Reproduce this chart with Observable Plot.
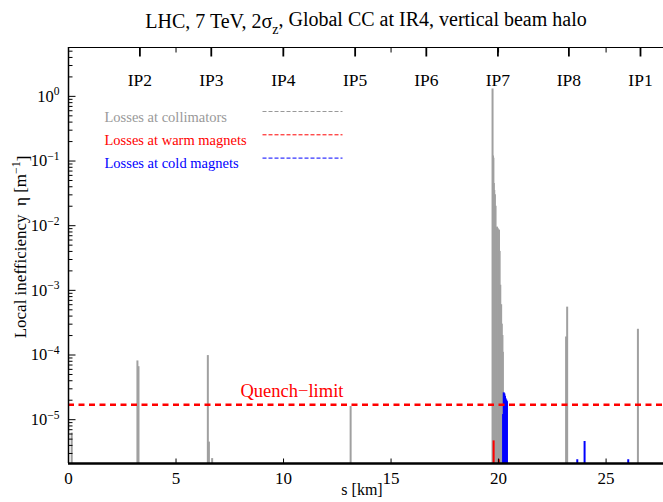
<!DOCTYPE html>
<html><head><meta charset="utf-8">
<script src="https://cdn.jsdelivr.net/npm/d3@7"></script>
<script src="https://cdn.jsdelivr.net/npm/@observablehq/plot@0.6"></script>
<style>
body{margin:0;background:#fff;}
#chart svg{background:#fff;}
#chart svg text, #chart svg tspan{font-family:"Liberation Serif","Times New Roman",serif !important;}
</style></head><body><div id="chart"></div>
<script>
// ---- data ----
const collimatorS   = [0.15, 3.205, 3.255, 6.48, 6.53, 6.68, 13.12,
  19.72, 19.74, 19.76, 19.78, 19.80, 19.83, 19.86, 19.89, 19.93, 19.96, 19.99, 20.02, 20.05, 20.08, 20.12, 20.15, 20.18, 20.20,
  23.14, 23.19, 26.48];
const collimatorEta = [6.2e-6, 8.1e-5, 6.6e-5, 9.8e-5, 4.5e-6, 2.5e-6, 1.6e-5,
  1.3, 0.12, 0.11, 0.045, 0.035, 0.030, 0.02, 0.009, 0.0095, 0.009, 0.0086, 0.0085, 0.004, 0.0012, 0.0006, 0.0003, 0.0002, 0.00011,
  1.9e-4, 5.5e-4, 2.5e-4];
const warmS   = [19.77, 20.01];
const warmEta = [4.7e-6, 2.4e-6];
const coldS   = [20.21, 20.24, 20.27, 20.30, 20.33, 20.36, 20.39, 23.66, 24.00, 26.03];
const coldEta = [1.2e-5, 2.6e-5, 2.5e-5, 2.3e-5, 2.1e-5, 2.0e-5, 1.9e-5, 2.4e-6, 4.6e-6, 2.4e-6];
const ipNames = ["IP2","IP3","IP4","IP5","IP6","IP7","IP8","IP1"];
const ipS     = [3.32, 6.64, 9.99, 13.33, 16.64, 19.97, 23.27, 26.6];
const xTicks  = [0, 5, 10, 15, 20, 25];
const yTicks  = [1e-5, 1e-4, 1e-3, 1e-2, 1e-1, 1];
const quenchLimit = 1.7e-5;
const legendLabels = ["Losses at collimators", "Losses at warm magnets", "Losses at cold magnets"];
const xDomain = [0, 27.67];
const yDomain = [2.1e-6, 5.7];

// ---- build ----
const SERIF = "Liberation Serif, Times New Roman, serif";
const GRAY = "#a0a0a0", RED = "#ff0000", BLUE = "#0000ff";
const legendColors = ["#999999", RED, BLUE];
const collimators = collimatorS.map((s, i) => ({s, eta: collimatorEta[i]}));
const warm = warmS.map((s, i) => ({s, eta: warmEta[i]}));
const cold = coldS.map((s, i) => ({s, eta: coldEta[i]}));
const minorY = [];
for (let e = -6; e <= 0; e++) for (let k = 2; k <= 9; k++) {
  const v = k * 10 ** e; if (v >= yDomain[0] && v <= yDomain[1]) minorY.push(v);
}
const tickLine = {draw(context, l) { context.moveTo(0, 0); context.lineTo(0, -l); }};
const tickOpts = {anchor: "start", shape: tickLine, strokeWidth: 1, strokeLinecap: "butt", stroke: "black"};

const spikes = (data, color) => Plot.ruleX(data, {x: "s", y1: yDomain[0], y2: "eta", stroke: color, strokeWidth: 2});

const legendMarks = legendLabels.flatMap((label, i) => [
  Plot.text([label], {frameAnchor: "top-left", dx: 36, dy: 64 + i * 23.3, textAnchor: "start", fill: legendColors[i], fontSize: 14.5, fontFamily: SERIF}),
  Plot.vector([label], {frameAnchor: "top-left", dx: 194, dy: 64 + i * 23.3, rotate: 90, length: 80, anchor: "start", shape: tickLine, stroke: legendColors[i], strokeWidth: 1, strokeDasharray: "4,2", strokeLinecap: "butt"})
]);

const svg = Plot.plot({
  width: 663, height: 502,
  marginLeft: 68, marginRight: 0, marginTop: 47, marginBottom: 39,
  style: {fontFamily: SERIF, background: "white", color: "black"},
  x: {domain: xDomain},
  y: {type: "log", domain: yDomain},
  marks: [
    spikes(collimators, GRAY),
    spikes(warm, RED),
    spikes(cold, BLUE),
    Plot.ruleY([quenchLimit], {stroke: RED, strokeWidth: 2.5, strokeDasharray: "6,4.5"}),
    Plot.text([quenchLimit], {y: d => d, text: () => "Quench\u2212limit", frameAnchor: "left", dx: 172, dy: -14, textAnchor: "start", fill: RED, fontSize: 18.5, fontFamily: SERIF}),
    // frame
    Plot.ruleX([xDomain[0]], {strokeWidth: 1.5}),
    Plot.ruleY([yDomain[1]], {strokeWidth: 1.2}),
    Plot.ruleY([yDomain[0]], {strokeWidth: 2.5}),
    // inward ticks
    Plot.vector(yTicks, {y: d => d, frameAnchor: "left", rotate: 90, length: 7, ...tickOpts}),
    Plot.vector(minorY, {y: d => d, frameAnchor: "left", rotate: 90, length: 4, ...tickOpts}),
    Plot.vector(xTicks, {x: d => d, frameAnchor: "bottom", rotate: 0, length: 5, ...tickOpts}),
    Plot.vector(xTicks, {x: d => d, frameAnchor: "top", rotate: 180, length: 5, ...tickOpts}),
    Plot.vector(ipS, {x: d => d, frameAnchor: "top", rotate: 180, length: 9, ...tickOpts, strokeWidth: 1.8}),
    // axes
    Plot.axisX({ticks: xTicks, tickSize: 0, tickPadding: 8, fontSize: 17, fontFamily: SERIF, label: null, tickFormat: d => String(d)}),
    Plot.axisY({ticks: yTicks, tickSize: 0, tickPadding: 9, fontSize: 16.5, fontFamily: SERIF, label: null, tickFormat: d => String(Math.round(Math.log10(d)))}),
    Plot.text(["s [km]"], {frameAnchor: "bottom", dy: 31, dx: -4, fontSize: 16, fontFamily: SERIF}),
    // IP labels
    Plot.text(ipNames, {x: ipS, frameAnchor: "top", dy: 26, fontSize: 17.5, fontFamily: SERIF}),
    ...legendMarks
  ]
});

// superscript tick labels
d3.select(svg).selectAll('g[aria-label="y-axis tick label"] text').each(function() {
  const e = this.textContent.replace("-", "\u2212");
  const t = d3.select(this);
  t.text("10");
  t.append("tspan").attr("dy", "-0.55em").attr("font-size", "0.7em").text(e);
});

// title
const title = d3.select(svg).append("text")
  .attr("x", 366).attr("y", 28).attr("text-anchor", "middle").attr("font-size", 20).attr("font-family", SERIF).attr("fill", "black");
title.append("tspan").text("LHC, 7 TeV, 2\u03c3");
title.append("tspan").attr("dy", "0.4em").attr("font-size", "0.7em").text("z");
title.append("tspan").attr("dy", "-0.4em").text(", Global CC at IR4, vertical beam halo");

// y label
const yl = d3.select(svg).append("text")
  .attr("transform", "translate(26,247) rotate(-90)").attr("text-anchor", "middle").attr("font-size", 17).attr("font-family", SERIF).attr("fill", "black");
yl.append("tspan").text("Local inefficiency  \u03b7 [m");
yl.append("tspan").attr("dy", "-0.5em").attr("font-size", "0.7em").text("\u22121");
yl.append("tspan").attr("dy", "0.5em").text("]");

document.getElementById("chart").appendChild(svg);
</script></body></html>
